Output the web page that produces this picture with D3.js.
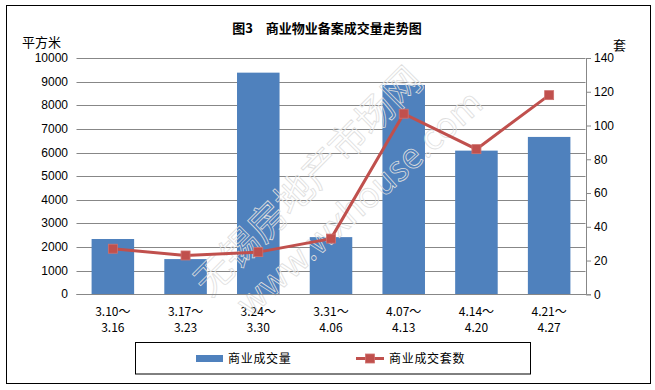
<!DOCTYPE html>
<html>
<head>
<meta charset="utf-8">
<script src="https://cdn.jsdelivr.net/npm/d3@7"></script>
<style>
  body { margin: 0; background: #fff; }
  text { font-family: "Noto Sans CJK SC", "DejaVu Sans", sans-serif; }
</style>
</head>
<body>
<script>
const width = 655;
const height = 390;

const periods = [
  ["3.10～", "3.16"],
  ["3.17～", "3.23"],
  ["3.24～", "3.30"],
  ["3.31～", "4.06"],
  ["4.07～", "4.13"],
  ["4.14～", "4.20"],
  ["4.21～", "4.27"],
];
const area = [2340, 1490, 9380, 2420, 8860, 6080, 6660];
const units = [27, 23, 25, 33, 107, 86, 118];
const leftTicks = d3.range(0, 10001, 1000);
const rightTicks = d3.range(0, 141, 20);

const plot = { left: 76.5, right: 585.5, top: 58, bottom: 294.3 };
const numFont = "'Liberation Sans', sans-serif";

const svg = d3
  .select("body")
  .append("svg")
  .attr("width", width)
  .attr("height", height);

// marco exterior
svg
  .append("rect")
  .attr("x", 6.5)
  .attr("y", 5.5)
  .attr("width", 644)
  .attr("height", 378)
  .attr("fill", "#fff")
  .attr("stroke", "#000")
  .attr("stroke-width", 1);

svg
  .append("text")
  .attr("x", 327)
  .attr("y", 33)
  .attr("text-anchor", "middle")
  .attr("font-size", 13)
  .attr("font-weight", "bold")
  .text("图3　商业物业备案成交量走势图");

const x = d3
  .scaleBand()
  .domain(periods.map((d, i) => i))
  .range([plot.left, plot.right])
  .paddingInner(0.415)
  .paddingOuter(0.2075);

const yLeft = d3.scaleLinear().domain([0, 10000]).range([plot.bottom, plot.top]);
const yRight = d3.scaleLinear().domain([0, 140]).range([plot.bottom, plot.top]);

// rejilla
svg
  .append("g")
  .selectAll("line")
  .data(leftTicks)
  .join("line")
  .attr("x1", plot.left)
  .attr("x2", plot.right)
  .attr("y1", (d) => Math.round(yLeft(d)) + 0.5)
  .attr("y2", (d) => Math.round(yLeft(d)) + 0.5)
  .attr("stroke", "#878787")
  .attr("stroke-width", 1);

// etiquetas eje izquierdo
svg
  .append("g")
  .selectAll("text")
  .data(leftTicks)
  .join("text")
  .attr("x", 68)
  .attr("y", (d) => yLeft(d) + 4)
  .attr("text-anchor", "end")
  .attr("font-size", 12)
  .style("font-family", numFont)
  .text((d) => d);

svg
  .append("text")
  .attr("x", 22)
  .attr("y", 47)
  .attr("font-size", 13)
  .text("平方米");

// eje derecho
const ejeDer = svg
  .append("g")
  .attr("transform", `translate(${plot.right + 0.5}, 0)`)
  .call(d3.axisRight(yRight).tickValues(rightTicks).tickSize(5).tickPadding(3));
ejeDer.select(".domain").attr("stroke", "#878787");
ejeDer.selectAll(".tick line").attr("stroke", "#878787");
ejeDer
  .selectAll(".tick text")
  .attr("font-size", 12)
  .style("font-family", numFont)
  .attr("fill", "#000");

svg
  .append("text")
  .attr("x", 613)
  .attr("y", 50)
  .attr("font-size", 13)
  .text("套");

// barras
svg
  .append("g")
  .selectAll("rect")
  .data(area)
  .join("rect")
  .attr("x", (d, i) => x(i))
  .attr("width", x.bandwidth())
  .attr("y", (d) => yLeft(d))
  .attr("height", (d) => yLeft(0) - yLeft(d))
  .attr("fill", "#4F81BD");

// etiquetas categorias
const cat = svg
  .append("g")
  .selectAll("text")
  .data(periods)
  .join("text")
  .attr("text-anchor", "middle")
  .attr("font-size", 12)
  .attr("x", (d, i) => x(i) + x.bandwidth() / 2);
cat
  .append("tspan")
  .attr("y", 316)
  .text((d) => d[0]);
cat
  .append("tspan")
  .attr("x", (d, i) => x(i) + x.bandwidth() / 2)
  .attr("y", 332)
  .text((d) => d[1]);

// marca de agua
const marca = svg
  .append("g")
  .attr("fill", "none")
  .attr("stroke", "#dedede")
  .attr("stroke-width", 0.8);
marca
  .append("text")
  .attr("transform", "translate(210,298) rotate(-45)")
  .attr("font-size", 38)
  .text("无锡房地产市场网");
marca
  .append("text")
  .attr("transform", "translate(250,318) rotate(-42)")
  .attr("font-size", 35)
  .text("www.wxhouse.com");

// linea
const linea = d3
  .line()
  .x((d, i) => x(i) + x.bandwidth() / 2)
  .y((d) => yRight(d));

svg
  .append("path")
  .datum(units)
  .attr("d", linea)
  .attr("fill", "none")
  .attr("stroke", "#C0504D")
  .attr("stroke-width", 3);

svg
  .append("g")
  .selectAll("rect")
  .data(units)
  .join("rect")
  .attr("x", (d, i) => x(i) + x.bandwidth() / 2 - 4.5)
  .attr("y", (d) => yRight(d) - 4.5)
  .attr("width", 9)
  .attr("height", 9)
  .attr("fill", "#C0504D")
  .attr("stroke", "#D0716E")
  .attr("stroke-width", 0.8);

// eje x
svg
  .append("line")
  .attr("x1", plot.left)
  .attr("x2", plot.right + 0.5)
  .attr("y1", Math.round(plot.bottom) + 0.5)
  .attr("y2", Math.round(plot.bottom) + 0.5)
  .attr("stroke", "#878787");

// leyenda
const leyenda = svg.append("g");
leyenda
  .append("rect")
  .attr("x", 135.5)
  .attr("y", 342.5)
  .attr("width", 395)
  .attr("height", 31.5)
  .attr("fill", "#fff")
  .attr("stroke", "#000");
leyenda
  .append("rect")
  .attr("x", 196)
  .attr("y", 355)
  .attr("width", 27)
  .attr("height", 7)
  .attr("fill", "#4F81BD");
leyenda
  .append("text")
  .attr("x", 228)
  .attr("y", 363)
  .attr("font-size", 12)
  .attr("letter-spacing", 0.7)
  .text("商业成交量");
leyenda
  .append("line")
  .attr("x1", 356)
  .attr("x2", 384)
  .attr("y1", 358.5)
  .attr("y2", 358.5)
  .attr("stroke", "#C0504D")
  .attr("stroke-width", 3);
leyenda
  .append("rect")
  .attr("x", 365.5)
  .attr("y", 354)
  .attr("width", 9)
  .attr("height", 9)
  .attr("fill", "#C0504D")
  .attr("stroke", "#D0716E")
  .attr("stroke-width", 0.8);
leyenda
  .append("text")
  .attr("x", 389)
  .attr("y", 363)
  .attr("font-size", 12)
  .attr("letter-spacing", 0.7)
  .text("商业成交套数");
</script>
</body>
</html>
